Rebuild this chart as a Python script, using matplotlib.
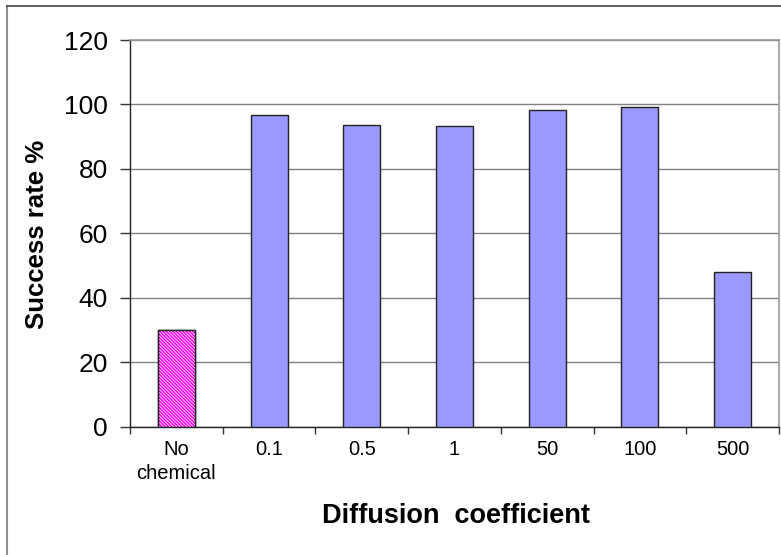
import matplotlib
matplotlib.use("Agg")
import matplotlib.pyplot as plt
from matplotlib.lines import Line2D

categories = ["No\nchemical", "0.1", "0.5", "1", "50", "100", "500"]
values = [30.0, 96.8, 93.6, 93.3, 98.4, 99.1, 47.9]
yticks = [0, 20, 40, 60, 80, 100, 120]

plt.rcParams['font.family'] = ['Liberation Sans', 'DejaVu Sans']
plt.rcParams['hatch.linewidth'] = 0.55

fig = plt.figure(figsize=(7.81, 5.55), dpi=100)
W, H = 781, 555
ax = fig.add_axes([130 / W, 1 - 426.5 / H, (779 - 130) / W, (426.5 - 40) / H])

x = list(range(len(categories)))
colors = ['#FF00FF'] + ['#9999FF'] * (len(categories) - 1)
ax.bar(x, values, width=0.4, color=colors, edgecolor='#222222', linewidth=1.0, zorder=3)
# white hatching on the first bar
ax.bar(x[:1], values[:1], width=0.4, facecolor='none', edgecolor='white',
       hatch='\\' * 10, linewidth=0, zorder=4)
ax.bar(x[:1], values[:1], width=0.4, facecolor='none', edgecolor='#222222',
       linewidth=1.0, zorder=5)

ax.set_xlim(-0.5, len(categories) - 0.5)
ax.set_ylim(0, 120)
ax.set_yticks(yticks)
ax.set_yticklabels([str(t) for t in yticks], fontsize=19)
ax.yaxis.grid(True, color='#808080', linewidth=1.0, zorder=0)
ax.set_axisbelow(True)

ax.set_xticks([i - 0.5 for i in range(len(categories) + 1)], minor=False)
ax.set_xticklabels([''] * (len(categories) + 1))
ax.set_xticks(x, minor=True)
ax.set_xticklabels(categories, minor=True, fontsize=14.5, linespacing=1.3)
ax.tick_params(axis='x', which='minor', length=0, pad=10)
ax.tick_params(axis='x', which='major', length=5, width=1, color='#333333', direction='out')
ax.tick_params(axis='y', length=7, width=1, color='#333333', direction='out', pad=9)

for s in ['left', 'bottom']:
    ax.spines[s].set_color('#222222')
    ax.spines[s].set_linewidth(1.0)
for s in ['top', 'right']:
    ax.spines[s].set_color('#999999')
    ax.spines[s].set_linewidth(1.2)

fig.text(37 / W, 1 - 234 / H, "Success rate %", rotation=90, ha='center', va='center',
         fontsize=18.5, fontweight='bold')
fig.text(456 / W, 1 - 516 / H, "Diffusion  coefficient", ha='center', va='center',
         fontsize=19.5, fontweight='bold')

# figure frame (Excel chart area border)
fig.add_artist(Line2D([7 / W, 7 / W], [0, 1 - 6 / H], transform=fig.transFigure,
                      color='#909090', linewidth=1.5))
fig.add_artist(Line2D([7 / W, 1], [1 - 6 / H, 1 - 6 / H], transform=fig.transFigure,
                      color='#444444', linewidth=1.2))

fig.savefig("out.png", dpi=100)
